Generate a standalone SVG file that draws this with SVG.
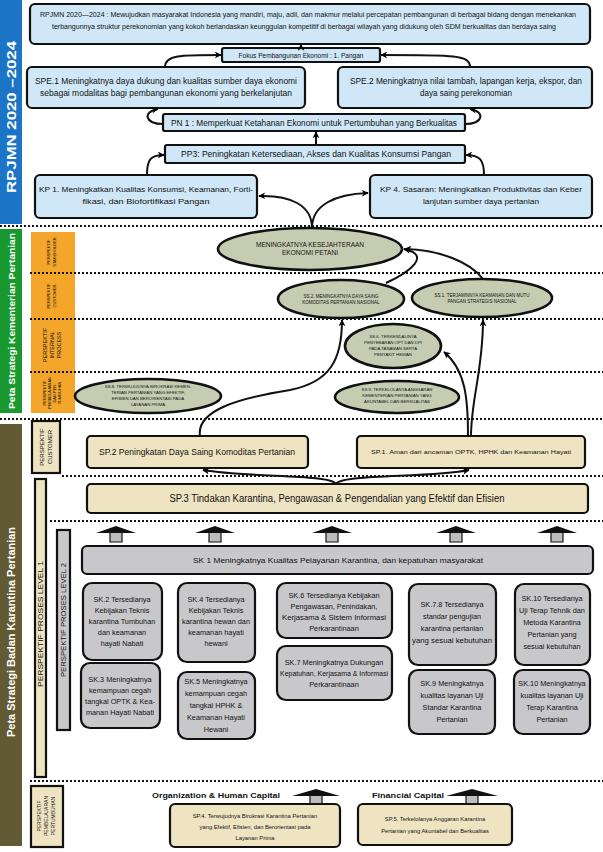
<svg xmlns="http://www.w3.org/2000/svg" width="603" height="852" viewBox="0 0 603 852">
<defs>
<marker id="ah" viewBox="0 0 10 10" refX="9" refY="5" markerWidth="7" markerHeight="7" markerUnits="userSpaceOnUse" orient="auto"><path d="M0,0 L10,5 L0,10 L3,5 z" fill="#000"/></marker>
<style>
.t{font-family:"Liberation Sans",Arial,sans-serif;fill:#111;}
.b{fill:#cfe7f7;stroke:#111;stroke-width:2.2;}
.tan{fill:#eee4c2;stroke:#111;stroke-width:2.2;}
.gr{fill:#c8c8ca;stroke:#111;stroke-width:2.2;}
.el{fill:#c6ccb2;stroke:#111;stroke-width:2.6;}
.dot{stroke:#111;stroke-width:2;stroke-dasharray:2 2;fill:none;}
.cn{fill:none;stroke:#111;stroke-width:2;marker-end:url(#ah);}
.vt{font-family:"Liberation Sans",Arial,sans-serif;fill:#fff;font-weight:bold;}
.bh{fill:#111;}
.bs{fill:#bdbdbd;stroke:#111;stroke-width:1.2;}
</style>
</defs>
<rect width="603" height="852" fill="#fff"/>

<!-- side bars -->
<g id="bar-rpjmn"><rect x="0" y="0" width="22" height="224" fill="#1b74c6"/><text class="vt" font-size="13.5" transform="translate(16,117) rotate(-90)" text-anchor="middle" textLength="152" lengthAdjust="spacingAndGlyphs">RPJMN 2020 –2024</text></g>
<g id="bar-kementan"><rect x="0" y="229" width="22" height="184" fill="#18982e"/><text class="vt" font-size="9" transform="translate(15,321) rotate(-90)" text-anchor="middle" textLength="176" lengthAdjust="spacingAndGlyphs">Peta Strategi Kementerian Pertanian</text></g>
<g id="bar-karantina"><rect x="0" y="424" width="22" height="422" fill="#625a33"/><text class="vt" font-size="10" transform="translate(15,632) rotate(-90)" text-anchor="middle" textLength="210" lengthAdjust="spacingAndGlyphs">Peta Strategi Badan Karantina Pertanian</text></g>

<!-- orange perspectives -->
<g id="persp-kementan">
<rect x="31" y="232" width="44" height="181" fill="#f4a62a"/>
<g class="t" font-size="4" text-anchor="middle">
<text transform="translate(50,252) rotate(-90)">PERSPEKTIF</text><text transform="translate(56,252) rotate(-90)">STAKEHOLDER</text>
<text transform="translate(50,296) rotate(-90)">PERSPEKTIF</text><text transform="translate(56,296) rotate(-90)">CUSTOMER</text>
<text font-size="5.5" transform="translate(47,345) rotate(-90)">PERSPEKTIF</text><text font-size="5.5" transform="translate(54,345) rotate(-90)">INTERNAL</text><text font-size="5.5" transform="translate(61,345) rotate(-90)">PROCESS</text>
<text transform="translate(46,393) rotate(-90)">PERSPEKTIF</text><text transform="translate(51,393) rotate(-90)">PEMBELAJARAN</text><text transform="translate(56,393) rotate(-90)">DAN PER-</text><text transform="translate(61,393) rotate(-90)">TUMBUHAN</text>
</g>
</g>

<!-- dotted separators -->
<g id="separators">
<line class="dot" x1="0" y1="226" x2="603" y2="226"/>
<line class="dot" x1="30" y1="273" x2="603" y2="273"/>
<line class="dot" x1="30" y1="319" x2="603" y2="319"/>
<line class="dot" x1="30" y1="372" x2="603" y2="372"/>
<line class="dot" x1="0" y1="419" x2="603" y2="419"/>
<line class="dot" x1="62" y1="476" x2="603" y2="476"/>
<line class="dot" x1="50" y1="521" x2="603" y2="521"/>
<line class="dot" x1="30" y1="781" x2="603" y2="781"/>
</g>

<!-- RPJMN nodes -->
<g id="rpjmn"><rect class="b" x="30" y="4" width="560" height="40" rx="5"/>
<text class="t" font-size="7" x="308" y="17" text-anchor="middle" textLength="536" lengthAdjust="spacingAndGlyphs">RPJMN 2020—2024 : Mewujudkan masyarakat Indonesia yang mandiri, maju, adil, dan makmur melalui percepatan pembangunan di berbagai bidang  dengan menekankan</text>
<text class="t" font-size="7" x="304" y="29" text-anchor="middle" textLength="504" lengthAdjust="spacingAndGlyphs">terbangunnya struktur perekonomian yang kokoh berlandaskan keunggulan kompetitif di berbagai wilayah  yang didukung oleh SDM berkualitas dan berdaya saing</text></g>
<g id="fokus"><rect class="b" x="222" y="48" width="158" height="14" rx="2"/>
<text class="t" font-size="7" x="301" y="57.5" text-anchor="middle" textLength="125" lengthAdjust="spacingAndGlyphs">Fokus Pembangunan Ekonomi : 1. Pangan</text></g>
<g id="spe1"><rect class="b" x="27" y="67" width="278" height="41" rx="5"/>
<text class="t" font-size="8.5" x="166" y="84" text-anchor="middle" textLength="262" lengthAdjust="spacingAndGlyphs">SPE.1 Meningkatnya daya dukung dan kualitas sumber daya ekonomi</text>
<text class="t" font-size="8.5" x="166" y="96" text-anchor="middle" textLength="252" lengthAdjust="spacingAndGlyphs">sebagai modalitas bagi pembangunan ekonomi yang berkelanjutan</text></g>
<g id="spe2"><rect class="b" x="338" y="67" width="254" height="41" rx="5"/>
<text class="t" font-size="8.5" x="466" y="84" text-anchor="middle" textLength="232" lengthAdjust="spacingAndGlyphs">SPE.2 Meningkatnya nilai tambah, lapangan kerja, ekspor, dan</text>
<text class="t" font-size="8.5" x="466" y="96" text-anchor="middle" textLength="92" lengthAdjust="spacingAndGlyphs">daya saing perekonomian</text></g>
<g id="pn1"><rect class="b" x="163" y="114" width="302" height="17" rx="2"/>
<text class="t" font-size="8.5" x="314" y="125.5" text-anchor="middle" textLength="286" lengthAdjust="spacingAndGlyphs">PN 1 : Memperkuat Ketahanan Ekonomi untuk Pertumbuhan yang Berkualitas</text></g>
<g id="pp3"><rect class="b" x="165" y="145" width="300" height="18" rx="2"/>
<text class="t" font-size="8.5" x="316" y="157" text-anchor="middle" textLength="270" lengthAdjust="spacingAndGlyphs">PP3: Peningkatan  Ketersediaan, Akses  dan Kualitas Konsumsi Pangan</text></g>
<g id="kp1"><rect class="b" x="35" y="175" width="222" height="43" rx="5"/>
<text class="t" font-size="8" x="146" y="192" text-anchor="middle" textLength="214" lengthAdjust="spacingAndGlyphs">KP 1. Meningkatkan Kualitas Konsumsi, Keamanan, Forti-</text>
<text class="t" font-size="8" x="146" y="204" text-anchor="middle" textLength="127" lengthAdjust="spacingAndGlyphs">fikasi, dan Biofortifikasi Pangan</text></g>
<g id="kp4"><rect class="b" x="370" y="175" width="222" height="43" rx="5"/>
<text class="t" font-size="8" x="481" y="192" text-anchor="middle" textLength="202" lengthAdjust="spacingAndGlyphs">KP 4. Sasaran: Meningkatkan Produktivitas dan Keber</text>
<text class="t" font-size="8" x="481" y="204" text-anchor="middle" textLength="116" lengthAdjust="spacingAndGlyphs">lanjutan sumber daya pertanian</text></g>

<!-- Kementan ellipses -->
<g id="ss-main"><ellipse class="el" cx="310" cy="249" rx="92" ry="21"/>
<text class="t" font-size="6.5" x="310" y="247" text-anchor="middle" textLength="108" lengthAdjust="spacingAndGlyphs">MENINGKATNYA KESEJAHTERAAN</text>
<text class="t" font-size="6.5" x="310" y="255" text-anchor="middle" textLength="56" lengthAdjust="spacingAndGlyphs">EKONOMI PETANI</text></g>
<g id="ss2"><ellipse class="el" cx="341" cy="299" rx="63" ry="19"/>
<text class="t" font-size="4.5" x="341" y="298" text-anchor="middle">SS.2. MENINGKATNYA DAYA SAING</text>
<text class="t" font-size="4.5" x="341" y="304" text-anchor="middle">KOMODITAS PERTANIAN NASIONAL</text></g>
<g id="ss1"><ellipse class="el" cx="482" cy="298" rx="70" ry="19"/>
<text class="t" font-size="4.5" x="482" y="297" text-anchor="middle">SS.1. TERJAMINNYA KEAMANAN DAN MUTU</text>
<text class="t" font-size="4.5" x="482" y="303" text-anchor="middle">PANGAN STRATEGIS NASIONAL</text></g>
<g id="ss6"><ellipse class="el" cx="393" cy="346" rx="48" ry="22"/>
<g class="t" font-size="4.3" text-anchor="middle"><text x="393" y="338">SS.6. TERKENDALINYA</text><text x="393" y="344">PENYEBARAN OPT DAN DPI</text><text x="393" y="350">PADA TANAMAN SERTA</text><text x="393" y="356">PENYAKIT HEWAN</text></g></g>
<g id="ss8"><ellipse class="el" cx="148" cy="396" rx="73" ry="17"/>
<g class="t" font-size="4.3" text-anchor="middle"><text x="148" y="388">SS.8. TERWUJUDNYA BIROKRASI KEMEN-</text><text x="148" y="394">TERIAN PERTANIAN YANG EFEKTIF,</text><text x="148" y="400">EFISIEN DAN BERORIENTASI PADA</text><text x="148" y="406">LAYANAN PRIMA</text></g></g>
<g id="ss9"><ellipse class="el" cx="397" cy="397" rx="62" ry="16"/>
<g class="t" font-size="4.3" text-anchor="middle"><text x="397" y="391">SS.9. TERKELOLANYA ANGGARAN</text><text x="397" y="397">KEMENTERIAN PERTANIAN YANG</text><text x="397" y="403">AKUNTABEL DAN BERKUALITAS</text></g></g>

<!-- Karantina perspectives -->
<g id="persp-customer"><rect class="tan" x="32" y="421" width="28" height="52"/>
<text class="t" font-size="6" transform="translate(44,447) rotate(-90)" text-anchor="middle">PERSPEKTIF</text>
<text class="t" font-size="6" transform="translate(52,447) rotate(-90)" text-anchor="middle">CUSTOMER</text></g>
<g id="persp-level1"><rect class="tan" x="35" y="479" width="11" height="298" stroke-width="1.5"/>
<text class="t" font-size="6.5" transform="translate(43,624) rotate(-90)" text-anchor="middle" textLength="126" lengthAdjust="spacingAndGlyphs">PERSPEKTIF PROSES LEVEL 1</text></g>
<g id="persp-level2"><rect class="gr" x="57" y="530" width="13" height="200" stroke-width="1.5"/>
<text class="t" font-size="6.5" transform="translate(66,620) rotate(-90)" text-anchor="middle" textLength="114" lengthAdjust="spacingAndGlyphs">PERSPEKTIF PROSES LEVEL 2</text></g>
<g id="persp-pembelajaran"><rect class="tan" x="31" y="786" width="32" height="61"/>
<g class="t" font-size="5" text-anchor="middle"><text transform="translate(41,816) rotate(-90)">PERSPEKTIF</text><text transform="translate(48,816) rotate(-90)">PEMBELAJARAN</text><text transform="translate(55,816) rotate(-90)">PERTUMBUHAN</text></g></g>

<!-- Karantina nodes -->
<g id="sp2"><rect class="tan" x="87" y="436" width="221" height="32" rx="4"/>
<text class="t" font-size="8.5" x="197" y="455" text-anchor="middle" textLength="196" lengthAdjust="spacingAndGlyphs">SP.2 Peningkatan Daya Saing Komoditas Pertanian</text></g>
<g id="sp1"><rect class="tan" x="357" y="436" width="228" height="32" rx="4"/>
<text class="t" font-size="5.5" x="471" y="454" text-anchor="middle" textLength="200" lengthAdjust="spacingAndGlyphs">SP.1. Aman dari ancaman OPTK, HPHK dan Keamanan Hayati</text></g>
<g id="sp3"><rect class="tan" x="87" y="484" width="501" height="29" rx="4"/>
<text class="t" font-size="10" x="337" y="502" text-anchor="middle" textLength="335" lengthAdjust="spacingAndGlyphs">SP.3 Tindakan Karantina, Pengawasan &amp; Pengendalian yang Efektif dan Efisien</text></g>

<g id="up-arrows">
<path class="bs" d="M110,532 h12 v10 h-12 z"/><path class="bh" d="M96,533 L116,526 L136,533 z"/>
<path class="bs" d="M209,532 h12 v10 h-12 z"/><path class="bh" d="M195,533 L215,526 L235,533 z"/>
<path class="bs" d="M326,532 h12 v10 h-12 z"/><path class="bh" d="M312,533 L332,526 L352,533 z"/>
<path class="bs" d="M450,532 h12 v10 h-12 z"/><path class="bh" d="M436,533 L456,526 L476,533 z"/>
<path class="bs" d="M551,532 h12 v10 h-12 z"/><path class="bh" d="M537,533 L557,526 L577,533 z"/>
<path class="bs" d="M310,795 h12 v9 h-12 z"/><path class="bh" d="M292,796 L316,789 L340,796 z"/>
<path class="bs" d="M466,795 h12 v9 h-12 z"/><path class="bh" d="M446,796 L472,789 L498,796 z"/>
</g>

<g id="sk1"><rect class="gr" x="82" y="546" width="511" height="28" rx="5"/>
<text class="t" font-size="7.5" x="338" y="563" text-anchor="middle" textLength="290" lengthAdjust="spacingAndGlyphs">SK 1 Meningkatnya Kualitas Pelayanan Karantina, dan kepatuhan masyarakat</text></g>

<g class="t" font-size="7.3" text-anchor="middle">
<g id="sk2"><rect class="gr" x="83" y="583" width="79" height="77" rx="9"/>
<text x="122" y="602">SK.2 Tersedianya</text><text x="122" y="613">Kebijakan Teknis</text><text x="122" y="624">karantina Tumbuhan</text><text x="122" y="635">dan keamanan</text><text x="122" y="646">hayati Nabati</text></g>
<g id="sk4"><rect class="gr" x="178" y="583" width="77" height="79" rx="9"/>
<text x="216" y="602">SK.4 Tersedianya</text><text x="216" y="613">Kebijakan Teknis</text><text x="216" y="624" textLength="68" lengthAdjust="spacingAndGlyphs">karantina hewan dan</text><text x="216" y="635">keamanan hayati</text><text x="216" y="646">hewani</text></g>
<g id="sk6"><rect class="gr" x="277" y="583" width="115" height="55" rx="9"/>
<text x="334" y="598">SK.6 Tersedianya Kebijakan</text><text x="334" y="609">Pengawasan, Penindakan,</text><text x="334" y="620" textLength="104" lengthAdjust="spacingAndGlyphs">Kerjasama &amp; Sistem Informasi</text><text x="334" y="631">Perkarantinaan</text></g>
<g id="sk7-8"><rect class="gr" x="409" y="584" width="87" height="81" rx="9"/>
<text x="452" y="607">SK.7.8 Tersedianya</text><text x="452" y="619">standar pengujian</text><text x="452" y="631">karantina pertanian</text><text x="452" y="643" textLength="80" lengthAdjust="spacingAndGlyphs">yang sesuai kebutuhan</text></g>
<g id="sk10a"><rect class="gr" x="515" y="584" width="75" height="81" rx="9"/>
<text x="552" y="601">SK.10 Tersedianya</text><text x="552" y="613">Uji Terap Tehnik dan</text><text x="552" y="625">Metoda  Karantina</text><text x="552" y="637">Pertanian yang</text><text x="552" y="649">sesuai kebutuhan</text></g>
<g id="sk3"><rect class="gr" x="81" y="663" width="79" height="65" rx="9"/>
<text x="120" y="682">SK.3 Meningkatnya</text><text x="120" y="693">kemampuan cegah</text><text x="120" y="704">tangkal OPTK &amp; Kea-</text><text x="120" y="715">manan Hayati Nabati</text></g>
<g id="sk5"><rect class="gr" x="178" y="672" width="77" height="67" rx="9"/>
<text x="216" y="684">SK.5 Meningkatnya</text><text x="216" y="696">kemampuan cegah</text><text x="216" y="708">tangkal HPHK &amp;</text><text x="216" y="720">Keamanan Hayati</text><text x="216" y="732">Hewani</text></g>
<g id="sk7"><rect class="gr" x="277" y="646" width="115" height="54" rx="9"/>
<text x="334" y="665">SK.7 Meningkatnya Dukungan</text><text x="334" y="676" textLength="108" lengthAdjust="spacingAndGlyphs">Kepatuhan, Kerjasama &amp; Informasi</text><text x="334" y="687">Perkarantinaan</text></g>
<g id="sk9"><rect class="gr" x="409" y="670" width="86" height="64" rx="9"/>
<text x="452" y="686">SK.9 Meningkatnya</text><text x="452" y="698">kualitas layanan Uji</text><text x="452" y="710">Standar Karantina</text><text x="452" y="722">Pertanian</text></g>
<g id="sk10b"><rect class="gr" x="514" y="670" width="76" height="64" rx="9"/>
<text x="552" y="686">SK.10 Meningkatnya</text><text x="552" y="698">kualitas layanan Uji</text><text x="552" y="710">Terap Karantina</text><text x="552" y="722">Pertanian</text></g>
</g>

<g id="capital-labels">
<text class="t" font-size="7.5" font-weight="bold" x="152" y="798" textLength="128" lengthAdjust="spacingAndGlyphs">Organization &amp; Human Capital</text>
<text class="t" font-size="7.5" font-weight="bold" x="372" y="798" textLength="72" lengthAdjust="spacingAndGlyphs">Financial Capital</text>
</g>
<g id="sp4"><rect class="tan" x="170" y="804" width="170" height="43" rx="5"/>
<g class="t" font-size="5.8" text-anchor="middle"><text x="255" y="818">SP.4. Terwujudnya Birokrasi Karantina Pertanian</text><text x="255" y="829">yang Efektif, Efisien, dan Berorientasi pada</text><text x="255" y="840">Layanan Prima</text></g></g>
<g id="sp5"><rect class="tan" x="358" y="804" width="154" height="41" rx="5"/>
<g class="t" font-size="5.8" text-anchor="middle"><text x="435" y="821">SP.5. Terkelolanya Anggaran Karantina</text><text x="435" y="833">Pertanian yang Akuntabel dan Berkualitas</text></g></g>

<!-- connectors -->
<g id="connectors">
<path class="cn" d="M301,48 L301,44.5"/>
<path class="cn" d="M165,67 C165,55 180,55 221,55"/>
<path class="cn" d="M470,67 C470,55 455,55 381,55"/>
<path class="cn" d="M163,124 C145,124 142,112 158,109"/>
<path class="cn" d="M465,124 C483,124 486,112 470,109"/>
<path class="cn" d="M316,145 L316,132"/>
<path class="cn" d="M147,175 C147,160 150,155 164,155"/>
<path class="cn" d="M484,175 C484,160 480,155 466,155"/>
<path class="cn" d="M312,228 C312,205 290,195 259,196"/>
<path class="cn" d="M312,228 C312,205 335,194 368,193"/>
<path class="cn" d="M386,283 C410,272 432,255 404,249"/>
<path class="cn" d="M483,279 C470,262 440,250 405,249"/>
<path class="cn" d="M200,436 C196,410 240,398 290,390 C330,382 342,360 342,320"/>
<path class="cn" d="M468,436 C468,400 466,370 444,352"/>
<path class="cn" d="M471,436 C471,400 483,370 483,320"/>
<path class="cn" d="M336,484 C330,474 250,478 203,470"/>
<path class="cn" d="M336,484 C342,474 430,478 469,470"/>
</g>
</svg>
